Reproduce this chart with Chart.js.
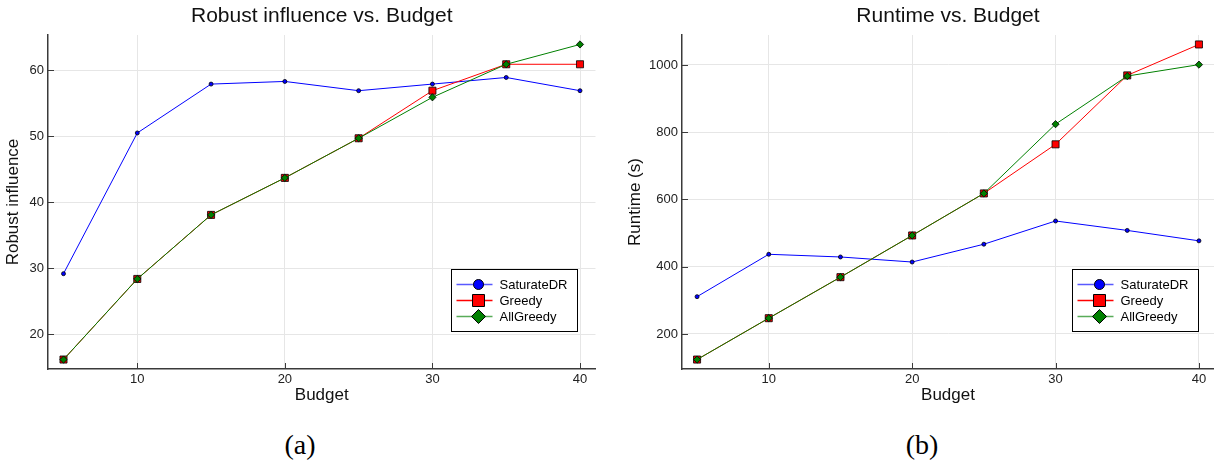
<!DOCTYPE html>
<html lang="en">
  <head>
    <meta charset="UTF-8" />
    <title>Robust influence and runtime vs. budget</title>
    <script src="https://cdn.jsdelivr.net/npm/chart.js"></script>
    <style>
      body {
        margin: 0;
        background: #fff;
        width: 1214px;
        height: 462px;
        position: relative;
        overflow: hidden;
      }
      canvas {
        position: absolute;
        top: 0;
      }
      .caption {
        position: absolute;
        top: 429px;
        width: 80px;
        margin-left: -40px;
        text-align: center;
        line-height: 32px;
        font-family: "Liberation Serif", serif;
        font-size: 28px;
        color: #000;
      }
    </style>
  </head>
  <body>
    <canvas id="influenceChart" width="607" height="410" style="left: 0"></canvas>
    <canvas id="runtimeChart" width="630" height="410" style="left: 607px"></canvas>
    <div class="caption" style="left: 300px">(a)</div>
    <div class="caption" style="left: 922px">(b)</div>
    <script>
      const budgets = [5, 10, 15, 20, 25, 30, 35, 40];
      const seriesNames = ["SaturateDR", "Greedy", "AllGreedy"];

      const influenceSaturate = [29.2, 50.5, 57.9, 58.3, 56.9, 57.9, 58.9, 56.9];
      const influenceGreedy = [16.2, 28.4, 38.1, 43.7, 49.7, 56.9, 60.9, 60.9];
      const influenceAllGreedy = [16.2, 28.4, 38.1, 43.7, 49.7, 55.9, 60.9, 63.9];

      const runtimeSaturate = [311, 437, 429, 414, 467, 536, 508, 477];
      const runtimeGreedy = [124, 247, 369, 493, 618, 764, 969, 1061];
      const runtimeAllGreedy = [124, 247, 369, 493, 618, 824, 967, 1001];

      const xTicks = [10, 20, 30, 40];
      const influenceTicks = [20, 30, 40, 50, 60];
      const runtimeTicks = [200, 400, 600, 800, 1000];

      const FONT = "'Liberation Sans', Arial, sans-serif";
      const AXIS = "#3a3a3a";
      const GRID = "#e6e6e6";

      // Plots.jl style: pad limits by 3% of the data range
      function padded(values) {
        const lo = Math.min(...values);
        const hi = Math.max(...values);
        const pad = (hi - lo) * 0.03;
        return [lo - pad, hi + pad];
      }

      const styles = [
        { color: "#0000ff", fill: "#0000ff", pointStyle: "circle", radius: 2, order: 3 },
        { color: "#ff0000", fill: "#ff0000", pointStyle: "rect", radius: 5, order: 2 },
        { color: "#008000", fill: "#008000", pointStyle: "rectRot", radius: 3.6, order: 1 },
      ];

      const innerTicks = {
        id: "innerTicks",
        beforeDatasetsDraw(chart) {
          const { ctx, chartArea, scales } = chart;
          ctx.save();
          ctx.strokeStyle = AXIS;
          ctx.lineWidth = 1;
          ctx.beginPath();
          scales.x.ticks.forEach((t) => {
            const px = Math.round(scales.x.getPixelForValue(t.value)) + 0.5;
            ctx.moveTo(px, chartArea.bottom);
            ctx.lineTo(px, chartArea.bottom - 6);
          });
          scales.y.ticks.forEach((t) => {
            const py = Math.round(scales.y.getPixelForValue(t.value)) + 0.5;
            ctx.moveTo(chartArea.left, py);
            ctx.lineTo(chartArea.left + 6, py);
          });
          ctx.stroke();
          ctx.restore();
        },
      };

      const boxLegend = {
        id: "boxLegend",
        afterDraw(chart, args, opts) {
          const { ctx, chartArea } = chart;
          const w = 126, h = 62;
          const x0 = Math.round(chartArea.right - opts.right - w) + 0.5;
          const y0 = Math.round(chartArea.bottom - 38 - h) + 0.5;
          ctx.save();
          ctx.fillStyle = "#fff";
          ctx.fillRect(x0, y0, w, h);
          ctx.strokeStyle = "#000";
          ctx.lineWidth = 1;
          ctx.strokeRect(x0, y0, w, h);
          ctx.font = "13px " + FONT;
          ctx.textBaseline = "middle";
          chart.data.datasets.forEach((ds, i) => {
            const st = styles[i];
            const y = y0 + 15 + i * 16;
            const mx = x0 + 27;
            ctx.globalAlpha = i === 1 ? 1 : 0.65;
            ctx.strokeStyle = st.color;
            ctx.lineWidth = 1.6;
            ctx.beginPath();
            ctx.moveTo(x0 + 5, y);
            ctx.lineTo(x0 + 41, y);
            ctx.stroke();
            ctx.globalAlpha = 1;
            ctx.fillStyle = st.fill;
            ctx.strokeStyle = "#000";
            ctx.lineWidth = 1;
            ctx.beginPath();
            if (st.pointStyle === "circle") {
              ctx.arc(mx, y, 5, 0, Math.PI * 2);
            } else if (st.pointStyle === "rect") {
              ctx.rect(mx - 6, y - 6, 12, 12);
            } else {
              ctx.moveTo(mx, y - 7);
              ctx.lineTo(mx + 7, y);
              ctx.lineTo(mx, y + 7);
              ctx.lineTo(mx - 7, y);
              ctx.closePath();
            }
            ctx.fill();
            ctx.stroke();
            ctx.fillStyle = "#000";
            ctx.fillText(ds.label, x0 + 48, y + 0.5);
          });
          ctx.restore();
        },
      };

      function drawChart(id, opts) {
        const [xMin, xMax] = padded(budgets);
        const [yMin, yMax] = padded(opts.series.flat());
        const datasets = opts.series.map((ys, i) => ({
          label: seriesNames[i],
          data: budgets.map((x, j) => ({ x: x, y: ys[j] })),
          borderColor: styles[i].color,
          borderWidth: 1,
          backgroundColor: styles[i].fill,
          pointStyle: styles[i].pointStyle,
          pointRadius: styles[i].radius,
          pointBorderColor: "#000",
          pointBorderWidth: 0.8,
          order: styles[i].order,
          tension: 0,
        }));

        new Chart(document.getElementById(id), {
          type: "line",
          data: { datasets: datasets },
          plugins: [innerTicks, boxLegend],
          options: {
            responsive: false,
            animation: false,
            layout: { padding: { left: 0, right: opts.rightPad, top: 0, bottom: 0 } },
            scales: {
              x: {
                type: "linear",
                min: xMin,
                max: xMax,
                afterBuildTicks: (axis) => {
                  axis.ticks = xTicks.map((v) => ({ value: v }));
                },
                afterFit: (axis) => {
                  axis.height = 41;
                },
                grid: { color: GRID, lineWidth: 1, drawTicks: false },
                border: { display: true, color: AXIS, width: 1.5 },
                ticks: {
                  color: "#222",
                  padding: 3,
                  maxRotation: 0,
                  font: { family: FONT, size: 13 },
                  callback: (v) => String(v),
                },
                title: {
                  display: true,
                  text: "Budget",
                  color: "#111",
                  padding: { top: 0, bottom: 4 },
                  font: { family: FONT, size: 17 },
                },
              },
              y: {
                type: "linear",
                min: yMin,
                max: yMax,
                afterBuildTicks: (axis) => {
                  axis.ticks = opts.yTicks.map((v) => ({ value: v }));
                },
                afterFit: (axis) => {
                  axis.width = opts.yWidth;
                },
                grid: { color: GRID, lineWidth: 1, drawTicks: false },
                border: { display: true, color: AXIS, width: 1.5 },
                ticks: {
                  color: "#222",
                  padding: 4,
                  font: { family: FONT, size: 13 },
                  callback: (v) => String(v),
                },
                title: {
                  display: true,
                  text: opts.yTitle,
                  color: "#111",
                  padding: { top: opts.yTitlePad, bottom: 0 },
                  font: { family: FONT, size: 17 },
                },
              },
            },
            plugins: {
              legend: { display: false },
              tooltip: { enabled: false },
              boxLegend: { right: opts.legendRight },
              title: {
                display: true,
                text: opts.title,
                fullSize: false,
                color: "#111",
                padding: { top: 3.4, bottom: 6.4 },
                font: { family: FONT, size: 21, weight: "normal" },
              },
            },
          },
        });
      }

      drawChart("influenceChart", {
        title: "Robust influence vs. Budget",
        yTitle: "Robust influence",
        series: [influenceSaturate, influenceGreedy, influenceAllGreedy],
        yTicks: influenceTicks,
        yWidth: 48,
        yTitlePad: 3.3,
        rightPad: 11.5,
        legendRight: 18.5,
      });

      // canvas runs past the page edge so the plot reaches x = 1214
      drawChart("runtimeChart", {
        title: "Runtime vs. Budget",
        yTitle: "Runtime (s)",
        series: [runtimeSaturate, runtimeGreedy, runtimeAllGreedy],
        yTicks: runtimeTicks,
        yWidth: 75,
        yTitlePad: 17.8,
        rightPad: 23,
        legendRight: 16,
      });
    </script>
  </body>
</html>
